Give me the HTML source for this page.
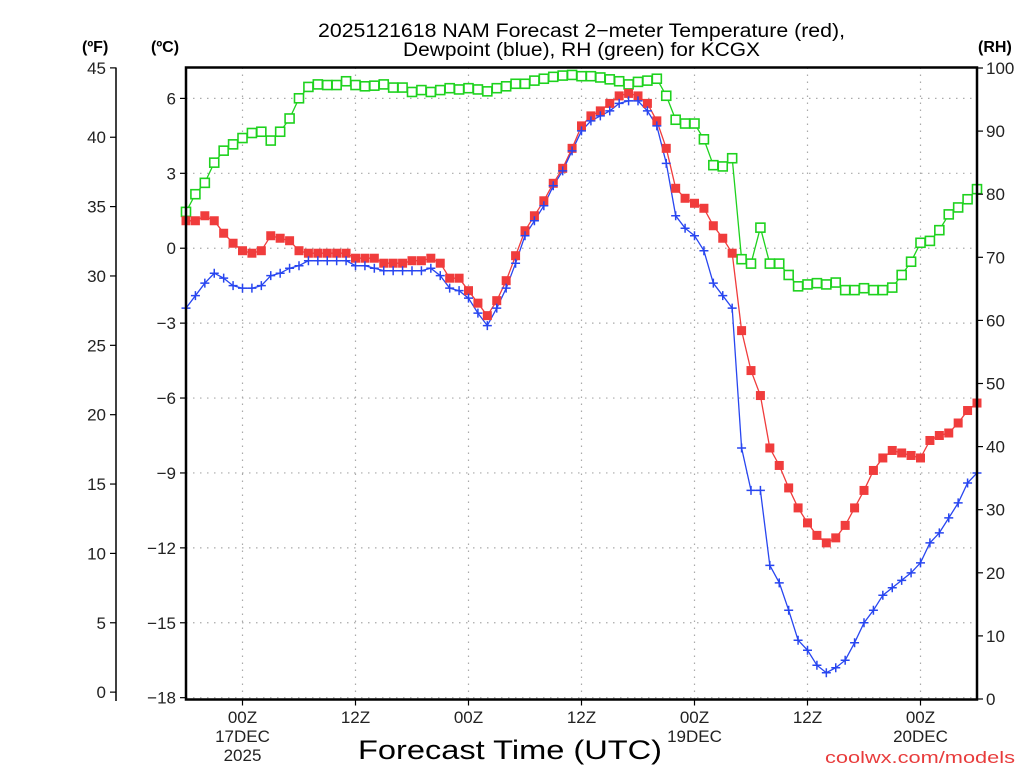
<!DOCTYPE html>
<html><head><meta charset="utf-8"><title>NAM Forecast KCGX</title>
<style>
html,body{margin:0;padding:0;background:#fff;}
svg{display:block;font-family:"Liberation Sans",sans-serif;}
</style></head>
<body>
<svg id="chart" width="1024" height="768" viewBox="0 0 1024 768" xmlns="http://www.w3.org/2000/svg">
<rect x="0" y="0" width="1024" height="768" fill="#fff"/>
<g id="grid"></g>
<g id="series"></g>
<g id="axes"></g>
<text x="318" y="37" font-size="19" textLength="527" lengthAdjust="spacingAndGlyphs" fill="#000">2025121618 NAM Forecast 2−meter Temperature (red),</text>
<text x="403" y="56" font-size="19" textLength="357" lengthAdjust="spacingAndGlyphs" fill="#000">Dewpoint (blue), RH (green) for KCGX</text>
<text x="82" y="52" font-size="16" font-weight="bold" fill="#000">(ºF)</text>
<text x="151" y="52" font-size="16" font-weight="bold" fill="#000">(ºC)</text>
<text x="978" y="52" font-size="16" font-weight="bold" fill="#000">(RH)</text>
<text x="510" y="759" font-size="27" text-anchor="middle" textLength="304" lengthAdjust="spacingAndGlyphs" fill="#000">Forecast Time (UTC)</text>
<text x="1015" y="763" font-size="17" text-anchor="end" textLength="190" lengthAdjust="spacingAndGlyphs" fill="#e83c3c">coolwx.com/models</text>
</svg>
<script>
const hours = [];
for (let h = 0; h <= 84; h++) hours.push(h);
const tempC = [1.1,1.1,1.3,1.1,0.6,0.2,-0.1,-0.2,-0.1,0.5,0.4,0.3,-0.1,-0.2,-0.2,-0.2,-0.2,-0.2,-0.4,-0.4,-0.4,-0.6,-0.6,-0.6,-0.5,-0.5,-0.4,-0.6,-1.2,-1.2,-1.7,-2.2,-2.7,-2.1,-1.3,-0.3,0.7,1.3,1.9,2.6,3.2,4.0,4.9,5.3,5.5,5.8,6.1,6.2,6.1,5.8,5.1,4.0,2.4,2.0,1.8,1.6,0.9,0.4,-0.2,-3.3,-4.9,-5.9,-8.0,-8.7,-9.6,-10.4,-11.0,-11.5,-11.8,-11.6,-11.1,-10.4,-9.7,-8.9,-8.4,-8.1,-8.2,-8.3,-8.4,-7.7,-7.5,-7.4,-7.0,-6.5,-6.2];
const dewC = [-2.4,-1.9,-1.4,-1.0,-1.2,-1.5,-1.6,-1.6,-1.5,-1.1,-1.0,-0.8,-0.7,-0.5,-0.5,-0.5,-0.5,-0.5,-0.7,-0.7,-0.8,-0.9,-0.9,-0.9,-0.9,-0.9,-0.8,-1.1,-1.6,-1.7,-2.0,-2.6,-3.1,-2.4,-1.6,-0.6,0.5,1.1,1.7,2.5,3.1,3.9,4.7,5.1,5.3,5.5,5.8,5.9,5.9,5.5,4.9,3.4,1.3,0.8,0.5,-0.1,-1.4,-1.9,-2.4,-8.0,-9.7,-9.7,-12.7,-13.4,-14.5,-15.7,-16.1,-16.7,-17.0,-16.8,-16.5,-15.8,-15.0,-14.5,-13.9,-13.6,-13.3,-13.0,-12.6,-11.8,-11.4,-10.8,-10.2,-9.4,-9.0];
const rh = [77.2,80.0,81.8,85.0,86.9,87.9,88.9,89.7,89.9,88.5,89.9,92.0,95.2,97.0,97.4,97.3,97.3,97.9,97.3,97.1,97.2,97.4,96.9,96.9,96.2,96.5,96.2,96.5,96.8,96.6,96.8,96.6,96.3,96.8,97.1,97.5,97.5,98.0,98.3,98.6,98.8,98.9,98.7,98.7,98.5,98.2,97.9,97.4,97.8,98.0,98.3,95.6,91.8,91.2,91.2,88.7,84.6,84.4,85.7,69.7,69.0,74.7,69.0,69.0,67.2,65.4,65.7,65.9,65.7,66.0,64.8,64.8,65.1,64.8,64.8,65.2,67.2,69.3,72.3,72.6,74.3,76.8,77.9,79.2,80.8];
const fTicks = [0,5,10,15,20,25,30,35,40,45];
const cTicks = [-18,-15,-12,-9,-6,-3,0,3,6];
const rhTicks = [0,10,20,30,40,50,60,70,80,90,100];
const timeTicks = [6,18,30,42,54,66,78];
const timeLabels = [["00Z","17DEC","2025"],["12Z"],["00Z"],["12Z"],["00Z","19DEC"],["12Z"],["00Z","20DEC"]];

const NS = "http://www.w3.org/2000/svg";
const L = 186, R = 977, T = 67.5, B = 699.5;
const xOf = h => L + (h / 84) * (R - L);
const yC = c => 98.4 + (6 - c) * 24.97;
const yF = f => yC((f - 32) / 1.8);
const yRH = r => 699 - r * 6.31;
function mk(tag, attrs, parent) {
  const e = document.createElementNS(NS, tag);
  for (const k in attrs) e.setAttribute(k, attrs[k]);
  parent.appendChild(e);
  return e;
}
const grid = document.getElementById('grid');
const axes = document.getElementById('axes');
const series = document.getElementById('series');

cTicks.forEach(c => {
  const y = yC(c);
  const g = mk('line', {x1: L, x2: R, y1: y, y2: y, stroke: '#aaa', 'stroke-width': 1.2, 'stroke-dasharray': '1.5 5.5'}, grid);
  
  
  const t = mk('line', {x1: L - 6, x2: L, y1: y, y2: y, stroke: '#000', 'stroke-width': 1.2}, axes);
  
  
  const lab = mk('text', {x: 176, y: y + 6, 'font-size': 17, 'text-anchor': 'end', fill: '#222'}, axes);
  lab.textContent = (c < 0 ? '−' + Math.abs(c) : String(c));
  
  
});
timeTicks.forEach((h, i) => {
  const x = xOf(h);
  const g = mk('line', {x1: x, x2: x, y1: T, y2: B, stroke: '#aaa', 'stroke-width': 1.2, 'stroke-dasharray': '1.5 5.5'}, grid);
  
  
  const t = mk('line', {x1: x, x2: x, y1: B, y2: B + 6, stroke: '#000', 'stroke-width': 1.2}, axes);
  
  
  timeLabels[i].forEach((s, j) => {
    const lab = mk('text', {x: x, y: 723 + j * 19, 'font-size': 17, 'text-anchor': 'middle', fill: '#222'}, axes);
    lab.textContent = s;
    
    
  });
});
const fl = mk('line', {x1: 116, x2: 116, y1: T, y2: 701, stroke: '#000', 'stroke-width': 1.5}, axes);


fTicks.forEach(f => {
  const y = yF(f);
  const t = mk('line', {x1: 110, x2: 116, y1: y, y2: y, stroke: '#000', 'stroke-width': 1.2}, axes);
  
  
  const lab = mk('text', {x: 106, y: y + 6, 'font-size': 17, 'text-anchor': 'end', fill: '#222'}, axes);
  lab.textContent = String(f);
  
  
});
rhTicks.forEach(r => {
  const y = yRH(r);
  const t = mk('line', {x1: R, x2: R + 6, y1: y, y2: y, stroke: '#000', 'stroke-width': 1.2}, axes);
  
  
  const lab = mk('text', {x: 986, y: y + 6, 'font-size': 17, fill: '#222'}, axes);
  lab.textContent = String(r);
  
  
});
const frame = mk('rect', {x: L, y: T, width: R - L, height: B - T, fill: 'none', stroke: '#000', 'stroke-width': 2.5}, axes);



function drawLine(vals, yfn, color, name) {
  const pts = vals.map((v, i) => xOf(hours[i]).toFixed(1) + ',' + yfn(v).toFixed(1)).join(' ');
  const pl = mk('polyline', {points: pts, fill: 'none', stroke: color, 'stroke-width': 1.3}, series);
  
  
}
drawLine(rh, yRH, '#1ed21e', 'rh');
drawLine(tempC, yC, '#f03c3c', 'temperature');
drawLine(dewC, yC, '#2846f0', 'dewpoint');
rh.forEach((v, i) => {
  const x = xOf(hours[i]), y = yRH(v);
  const m = mk('rect', {x: x - 4.5, y: y - 4.5, width: 9, height: 9, fill: '#fff', stroke: '#1ed21e', 'stroke-width': 1.6}, series);
  
  
});
tempC.forEach((v, i) => {
  const x = xOf(hours[i]), y = yC(v);
  const m = mk('rect', {x: x - 4.5, y: y - 4.5, width: 9, height: 9, fill: '#f03c3c'}, series);
  
  
});
dewC.forEach((v, i) => {
  const x = xOf(hours[i]), y = yC(v);
  const m = mk('path', {d: `M${x-4.5},${y}H${x+4.5}M${x},${y-4.5}V${y+4.5}`, stroke: '#2846f0', 'stroke-width': 1.5, fill: 'none'}, series);
  
  
});
</script>
</body></html>
